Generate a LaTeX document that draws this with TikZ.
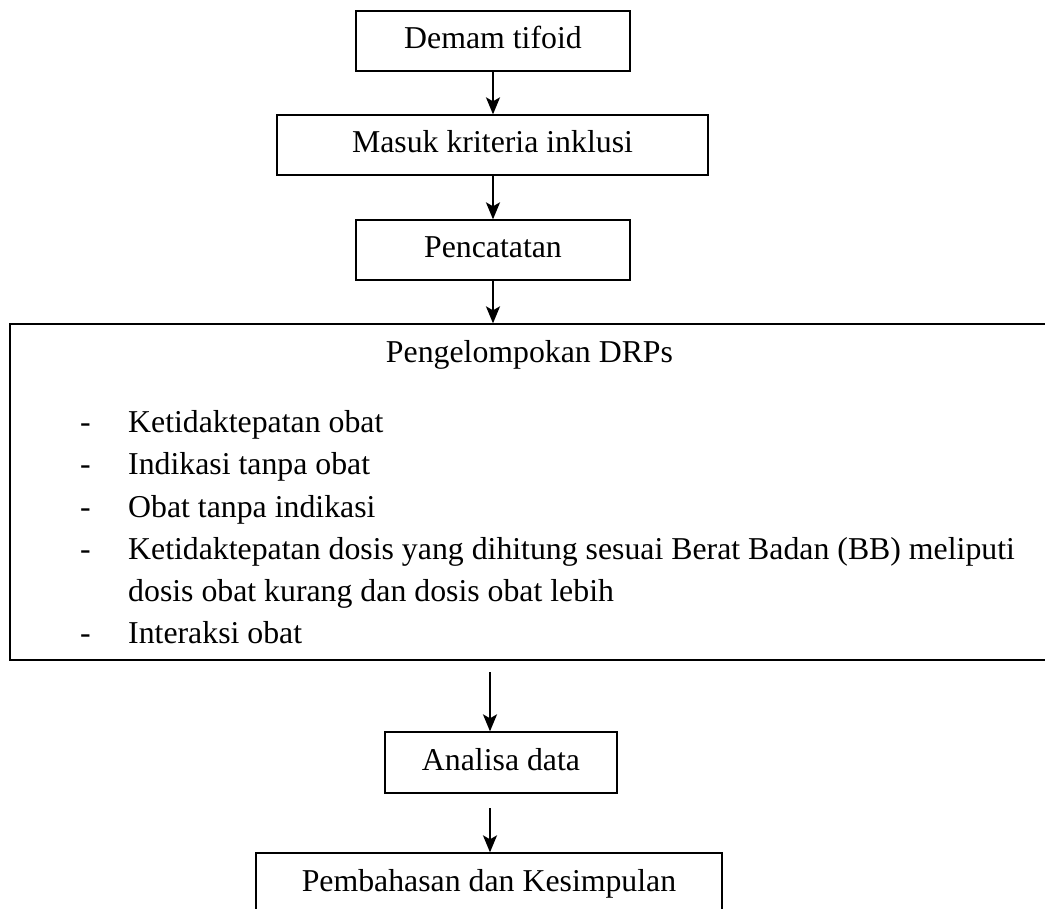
\documentclass[tikz,border=0pt]{standalone}
\usepackage{fontspec}
\setmainfont{Liberation Serif}
\usetikzlibrary{arrows.meta}
\begin{document}
\begin{tikzpicture}[x=1pt,y=-1pt,
 box/.style={draw, line width=1.3pt, inner sep=0pt, text height=23pt, text depth=7pt, font=\fontsize{31.8}{42}\selectfont},
 lbl/.style={inner sep=0pt, anchor=base west, font=\fontsize{31.8}{42}\selectfont},
 arr/.style={line width=2pt, -{Stealth[length=17pt,width=14pt,inset=4pt]}}]
\useasboundingbox (0,0) rectangle (1045,909);
\clip (0,0) rectangle (1045,909);
\node[box, minimum width=274pt, minimum height=60pt] (b1) at (493,41) {Demam tifoid};
\node[box, minimum width=431pt, minimum height=60pt] (b2) at (492.5,145) {Masuk kriteria inklusi};
\node[box, minimum width=274pt, minimum height=60pt] (b3) at (493,250) {Pencatatan};
\node[box, minimum width=1050pt, minimum height=336pt] (big) at (535,492) {};
\node[lbl, anchor=base] (title) at (529.5,363) {Pengelompokan DRPs};
\node[lbl] (d1) at (80,433) {-};
\node[lbl] (t1) at (128,433) {Ketidaktepatan obat};
\node[lbl] (d2) at (80,475) {-};
\node[lbl] (t2) at (128,475) {Indikasi tanpa obat};
\node[lbl] (d3) at (80,517) {-};
\node[lbl] (t3) at (128,517) {Obat tanpa indikasi};
\node[lbl] (d4) at (80,559) {-};
\node[lbl] (t4) at (128,559) {Ketidaktepatan dosis yang dihitung sesuai Berat Badan (BB) meliputi};
\node[lbl] (t4b) at (128,601) {dosis obat kurang dan dosis obat lebih};
\node[lbl] (d5) at (80,643) {-};
\node[lbl] (t5) at (128,643) {Interaksi obat};
\node[box, minimum width=232pt, minimum height=61pt] (an) at (501,762.5) {Analisa data};
\node[box, minimum width=466pt, minimum height=60pt] (pk) at (489,883) {Pembahasan dan Kesimpulan};
\coordinate (a4) at (490,672);
\coordinate (a5) at (490,808);
\draw[arr] (b1.south) -- (b1.south |- b2.north);
\draw[arr] (b1.south |- b2.south) -- (b1.south |- b3.north);
\draw[arr] (b3.south) -- (b3.south |- big.north);
\draw[arr] (a4) -- (a4 |- an.north);
\draw[arr] (a5) -- (a5 |- pk.north);
\end{tikzpicture}
\end{document}
